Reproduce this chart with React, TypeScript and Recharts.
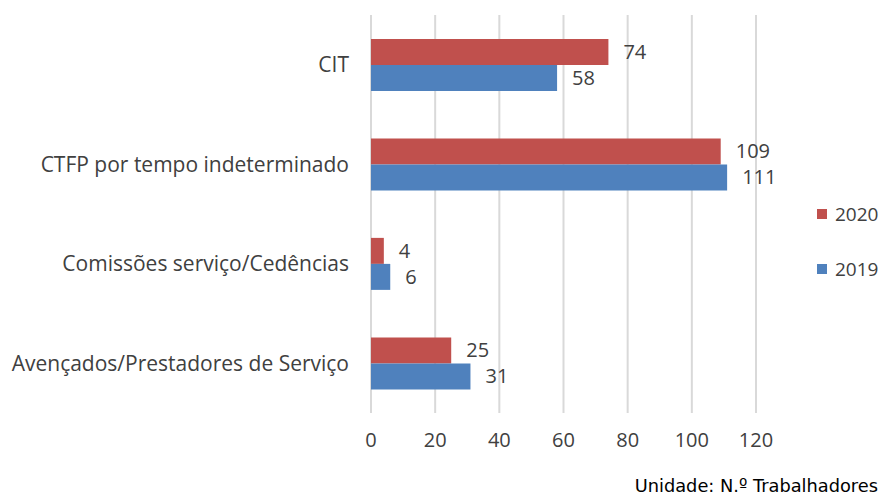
import { BarChart, Bar, XAxis, YAxis, CartesianGrid, Legend, LabelList } from "recharts";

const categories = [
  "CIT",
  "CTFP por tempo indeterminado",
  "Comissões serviço/Cedências",
  "Avençados/Prestadores de Serviço",
];
const values2020 = [74, 109, 4, 25];
const values2019 = [58, 111, 6, 31];
const xTicks = [0, 20, 40, 60, 80, 100, 120];

const data = categories.map((name, i) => ({
  name,
  y2020: values2020[i],
  y2019: values2019[i],
}));

const FONT = "'Open Sans', 'Noto Sans', sans-serif";
const TEXT = "#404040";
const LEGEND_W = 70;

// legend drawn by hand so the two items sit far apart like the original
function renderLegend(props: any) {
  const items = [...(props.payload || [])].sort((a: any, b: any) =>
    String(b.value).localeCompare(String(a.value))
  );
  return (
    <div style={{ fontFamily: FONT, fontSize: 19, color: TEXT }}>
      {items.map((it: any) => (
        <div key={it.value} style={{ display: "flex", alignItems: "center", height: 55 }}>
          <span style={{ width: 10, height: 10, background: it.color, marginRight: 8 }} />
          {it.value}
        </div>
      ))}
    </div>
  );
}

export default function App() {
  return (
    <div style={{ position: "relative", width: 882, height: 497, background: "#fff" }}>
      <style>{`body{margin:0}`}</style>
      <BarChart
        width={882}
        height={497}
        data={data}
        layout="vertical"
        margin={{ top: 15, right: 126 - LEGEND_W, left: 0, bottom: 0 }}
        barCategoryGap="24%"
        barGap={0}
      >
        <CartesianGrid horizontal={false} stroke="#d9d9d9" strokeWidth={2} />
        <XAxis
          type="number"
          domain={[0, 120]}
          ticks={xTicks}
          axisLine={false}
          tickLine={false}
          tickSize={0}
          tickMargin={20}
          height={84}
          tick={{ fill: TEXT, fontSize: 20, fontFamily: FONT }}
        />
        <YAxis
          type="category"
          dataKey="name"
          width={371}
          axisLine={false}
          tickLine={false}
          tickSize={0}
          tickMargin={22}
          tick={{ fill: TEXT, fontSize: 21, fontFamily: FONT }}
        />
        <Legend
          layout="vertical"
          align="right"
          verticalAlign="top"
          content={renderLegend}
          wrapperStyle={{ left: 817, top: 186, width: LEGEND_W }}
        />
        <Bar dataKey="y2020" name="2020" fill="#C0504D" isAnimationActive={false}>
          <LabelList dataKey="y2020" position="right" offset={15} fill={TEXT} fontSize={20} fontFamily={FONT} />
        </Bar>
        <Bar dataKey="y2019" name="2019" fill="#4F81BD" isAnimationActive={false}>
          <LabelList dataKey="y2019" position="right" offset={15} fill={TEXT} fontSize={20} fontFamily={FONT} />
        </Bar>
      </BarChart>
      <div
        style={{
          position: "absolute",
          right: 4,
          bottom: 1,
          fontFamily: "'DejaVu Sans', sans-serif",
          fontSize: 17.8,
          color: "#000",
        }}
      >
        Unidade: N.º Trabalhadores
      </div>
    </div>
  );
}
